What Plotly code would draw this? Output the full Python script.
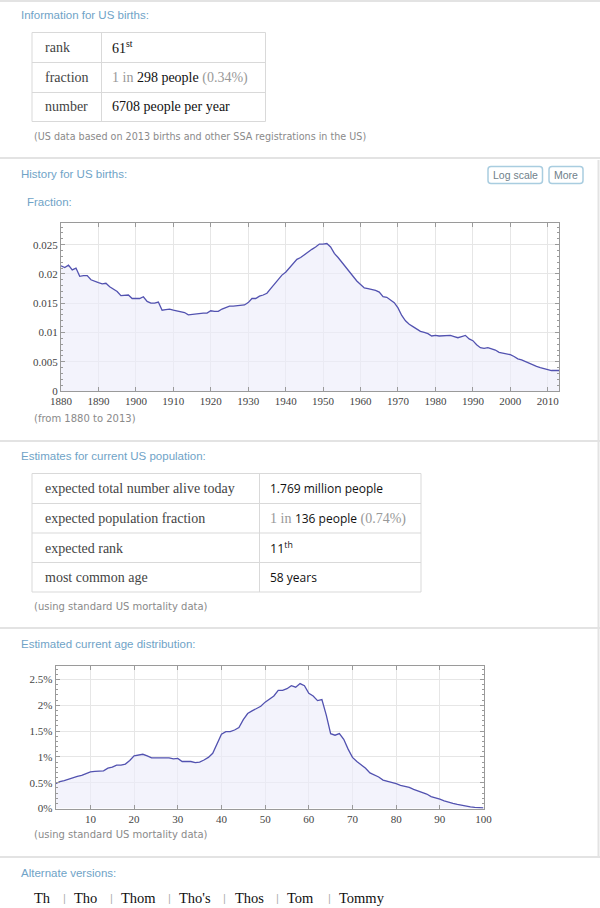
import plotly.graph_objects as go

W, H = 600, 908

# ---------------- data ----------------
years = list(range(1880, 2014))
fraction = [
    0.0214, 0.0211, 0.0215, 0.0207, 0.0210, 0.0196, 0.0197, 0.0197, 0.0190, 0.0187,
    0.0185, 0.0183, 0.0184, 0.0178, 0.0174, 0.0170, 0.0163, 0.0163, 0.0164, 0.0158,
    0.0158, 0.0158, 0.0161, 0.0153, 0.0150, 0.0150, 0.0152, 0.0138, 0.0139, 0.0140,
    0.0138, 0.0137, 0.0136, 0.0134, 0.0130, 0.0131, 0.0131, 0.0132, 0.0133, 0.0133,
    0.0137, 0.0136, 0.0136, 0.0140, 0.0142, 0.0145, 0.0145, 0.0146, 0.0146, 0.0147,
    0.0151, 0.0158, 0.0158, 0.0162, 0.0164, 0.0167, 0.0175, 0.0183, 0.0191, 0.0198,
    0.0203, 0.0211, 0.0219, 0.0225, 0.0228, 0.0233, 0.0237, 0.0242, 0.0246, 0.0251,
    0.0251, 0.0252, 0.0246, 0.0235, 0.0228, 0.0220, 0.0211, 0.0205, 0.0197, 0.0188,
    0.0182, 0.0176, 0.0175, 0.0174, 0.0172, 0.0169, 0.0161, 0.0160, 0.0156, 0.0151,
    0.0142, 0.0129, 0.0120, 0.0114, 0.0110, 0.0106, 0.0102, 0.0100, 0.0098, 0.0094,
    0.0095, 0.0094, 0.0094, 0.0095, 0.0095, 0.0093, 0.0091, 0.0093, 0.0095, 0.0089,
    0.0086, 0.0079, 0.0074, 0.0073, 0.0074, 0.0072, 0.0070, 0.0066, 0.0065, 0.0063,
    0.0062, 0.0059, 0.0055, 0.0053, 0.0050, 0.0048, 0.0045, 0.0042, 0.0040, 0.0038,
    0.0036, 0.0035, 0.0035, 0.0035,
]

ages = list(range(2, 101))
age_pct = [
    0.48, 0.52, 0.54, 0.57, 0.60, 0.62, 0.64, 0.68, 0.71, 0.72,
    0.73, 0.73, 0.78, 0.80, 0.84, 0.84, 0.86, 0.93, 1.02, 1.03,
    1.05, 1.02, 0.98, 0.98, 0.98, 0.98, 0.98, 0.96, 0.97, 0.91,
    0.91, 0.91, 0.89, 0.90, 0.94, 0.99, 1.07, 1.25, 1.44, 1.49,
    1.49, 1.52, 1.57, 1.72, 1.84, 1.89, 1.94, 1.98, 2.06, 2.12,
    2.18, 2.29, 2.29, 2.32, 2.38, 2.35, 2.42, 2.38, 2.23, 2.18,
    2.09, 2.11, 1.81, 1.45, 1.42, 1.45, 1.34, 1.15, 0.99, 0.91,
    0.85, 0.78, 0.69, 0.65, 0.61, 0.55, 0.53, 0.51, 0.48, 0.45,
    0.43, 0.41, 0.37, 0.34, 0.31, 0.28, 0.23, 0.21, 0.18, 0.15,
    0.12, 0.10, 0.08, 0.06, 0.05, 0.03, 0.02, 0.01, 0.01,
]

alternates = ["Th", "Tho", "Thom", "Tho's", "Thos", "Tom", "Tommy"]

# ---------------- helpers ----------------
def px(x):
    return x / W

def py(y):
    return 1 - y / H

TITLE_C = "#6fa3c7"
GRAY_TXT = "#8a8a8a"
SERIF = "Liberation Serif"
SANS = "Liberation Sans"
LINE_C = "#5252b0"
FILL_C = "rgba(236,236,250,0.65)"
GRID_C = "#e6e6e6"
AX_C = "#9a9a9a"
NOTE_FS = 9.6

annotations = []
shapes = []

def text(x, y, s, size=12, color="#222", family=SANS, anchor="left"):
    annotations.append(dict(
        x=px(x), y=py(y), xref="paper", yref="paper", text=s, showarrow=False,
        xanchor=anchor, yanchor="middle",
        font=dict(size=size, color=color, family=family),
    ))

def hline(y, x0=0, x1=W, color="#e3e3e3", width=2):
    shapes.append(dict(type="line", xref="paper", yref="paper",
                       x0=px(x0), x1=px(x1), y0=py(y), y1=py(y),
                       line=dict(color=color, width=width)))

def vline(x, y0, y1, color="#dcdcdc", width=1):
    shapes.append(dict(type="line", xref="paper", yref="paper",
                       x0=px(x), x1=px(x), y0=py(y0), y1=py(y1),
                       line=dict(color=color, width=width)))

def table(x0, x1, xs, ys):
    c = "#d9d9d9"
    for y in ys:
        hline(y, x0, x1, color=c, width=1)
    for x in (x0, xs, x1):
        vline(x, ys[0], ys[-1], color=c, width=1)

def button(x0, x1, y0, y1, label):
    r = 3
    X0, X1 = px(x0), px(x1)
    Y0, Y1 = py(y0), py(y1)
    rx, ry = r / W, r / H
    path = (f"M {X0+rx},{Y0} L {X1-rx},{Y0} Q {X1},{Y0} {X1},{Y0-ry} "
            f"L {X1},{Y1+ry} Q {X1},{Y1} {X1-rx},{Y1} L {X0+rx},{Y1} "
            f"Q {X0},{Y1} {X0},{Y1+ry} L {X0},{Y0-ry} Q {X0},{Y0} {X0+rx},{Y0} Z")
    shapes.append(dict(type="path", xref="paper", yref="paper", path=path,
                       line=dict(color="#a9cde0", width=1.5), fillcolor="white"))
    text((x0 + x1) / 2, (y0 + y1) / 2 + 0.5, label, size=10.5, color="#6f7f8a",
         anchor="center")

# ---------------- separators ----------------
hline(1)
hline(158)
hline(441)
hline(628)
hline(857)
vline(598.5, 160, 857, color="#e3e3e3", width=2)

# ---------------- section 1 ----------------
text(19, 15, "Information for US births:", size=11.5, color=TITLE_C)
table(32, 265.5, 101.5, [32.5, 62.5, 92.5, 121.5])
text(43, 47.5, "rank", size=14, color="#444", family=SERIF)
text(43, 77.5, "fraction", size=14, color="#444", family=SERIF)
text(43, 107, "number", size=14, color="#444", family=SERIF)
text(110, 47.5, "61<sup>st</sup>", size=14, color="#111", family=SERIF)
text(110, 77.5, "<span style='color:#999'>1 in </span>298 people"
     "<span style='color:#999'> (0.34%)</span>", size=14, color="#111", family=SERIF)
text(110, 107, "6708 people per year", size=14, color="#111", family=SERIF)
text(32, 136, "(US data based on 2013 births and other SSA registrations in the US)",
     size=NOTE_FS, color=GRAY_TXT, family="DejaVu Sans")

# ---------------- section 2 ----------------
text(19, 174, "History for US births:", size=11.5, color=TITLE_C)
button(488, 542.5, 166.5, 183.5, "Log scale")
button(549, 583, 166.5, 183.5, "More")
text(25, 202, "Fraction:", size=11.5, color=TITLE_C)
text(32, 418, "(from 1880 to 2013)", size=NOTE_FS + 0.4, color=GRAY_TXT,
     family="DejaVu Sans")

# ---------------- section 3 ----------------
text(19, 456, "Estimates for current US population:", size=11.5, color=TITLE_C)
table(32, 421, 259.5, [473.5, 503.5, 533, 562.5, 592])
rows3 = ["expected total number alive today", "expected population fraction",
         "expected rank", "most common age"]
ys3 = [488.5, 518.5, 548, 577.5]
for s, y in zip(rows3, ys3):
    text(43, y, s, size=14, color="#444", family=SERIF)
text(268, ys3[0], "1.769 million people", size=12, color="#111", family="Open Sans")
text(268, ys3[1], f"<span style='font-family:{SERIF};color:#999;font-size:14px'>1 in </span>"
     "136 people"
     f"<span style='font-family:{SERIF};color:#999;font-size:14px'> (0.74%)</span>",
     size=12, color="#111", family="Open Sans")
text(268, ys3[2], "11<sup>th</sup>", size=12.5, color="#111", family="Open Sans")
text(268, ys3[3], "58 years", size=12, color="#111", family="Open Sans")
text(32, 606, "(using standard US mortality data)", size=NOTE_FS + 0.4, color=GRAY_TXT,
     family="DejaVu Sans")

# ---------------- section 4 ----------------
text(19, 644, "Estimated current age distribution:", size=11.5, color=TITLE_C)
text(32, 834.5, "(using standard US mortality data)", size=NOTE_FS + 0.4,
     color=GRAY_TXT, family="DejaVu Sans")

# ---------------- section 5 ----------------
text(19, 873, "Alternate versions:", size=11.5, color=TITLE_C)
alt_x = [32, 72, 119, 177, 233, 285, 337]
sep_x = [61, 108, 166, 221, 274, 326]
for s, x in zip(alternates, alt_x):
    text(x, 898, s, size=14.5, color="#111", family=SERIF)
for x in sep_x:
    text(x, 898, "|", size=11, color="#b0b0b0", family=SANS)

# ---------------- charts ----------------
fig = go.Figure()
fig.add_trace(go.Scatter(x=years, y=fraction, mode="lines", fill="tozeroy",
                         line=dict(color=LINE_C, width=1.3), fillcolor=FILL_C,
                         xaxis="x", yaxis="y", hoverinfo="skip"))
fig.add_trace(go.Scatter(x=ages, y=age_pct, mode="lines", fill="tozeroy",
                         line=dict(color=LINE_C, width=1.3), fillcolor=FILL_C,
                         xaxis="x2", yaxis="y2", hoverinfo="skip"))

tickfont = dict(family=SERIF, size=11, color="#444")
common = dict(showline=True, linecolor=AX_C, linewidth=1, mirror="ticks",
              ticks="inside", ticklen=4, tickcolor=AX_C, gridcolor=GRID_C,
              gridwidth=1, zeroline=False, tickfont=tickfont, showgrid=True,
              fixedrange=True, automargin=False)

fig.update_layout(
    template="none",
    width=W, height=H, autosize=False,
    margin=dict(l=0, r=0, t=0, b=0, pad=0),
    paper_bgcolor="white", plot_bgcolor="white",
    showlegend=False,
    xaxis=dict(domain=[px(61), px(559)], range=[1880, 2013], tick0=1880, dtick=10,
               anchor="y", **common),
    yaxis=dict(domain=[py(391), py(223)], range=[0, 0.0287], tick0=0, dtick=0.005,
               anchor="x",
               minor=dict(dtick=0.001, ticks="inside", ticklen=2, tickcolor=AX_C,
                          showgrid=False),
               **common),
    xaxis2=dict(domain=[px(55.5), px(483.5)], range=[2, 100], tick0=0, dtick=10,
                anchor="y2", **common),
    yaxis2=dict(domain=[py(808.5), py(665.5)], range=[0, 2.77], tick0=0, dtick=0.5,
                ticksuffix="%", anchor="x2",
                minor=dict(dtick=0.1, ticks="inside", ticklen=2, tickcolor=AX_C,
                           showgrid=False),
                **common),
    annotations=annotations,
    shapes=shapes,
)

fig.write_html("out.html", config={"displayModeBar": False},
               post_script="document.body.style.margin='0';"
                           "document.body.style.overflow='hidden';")
